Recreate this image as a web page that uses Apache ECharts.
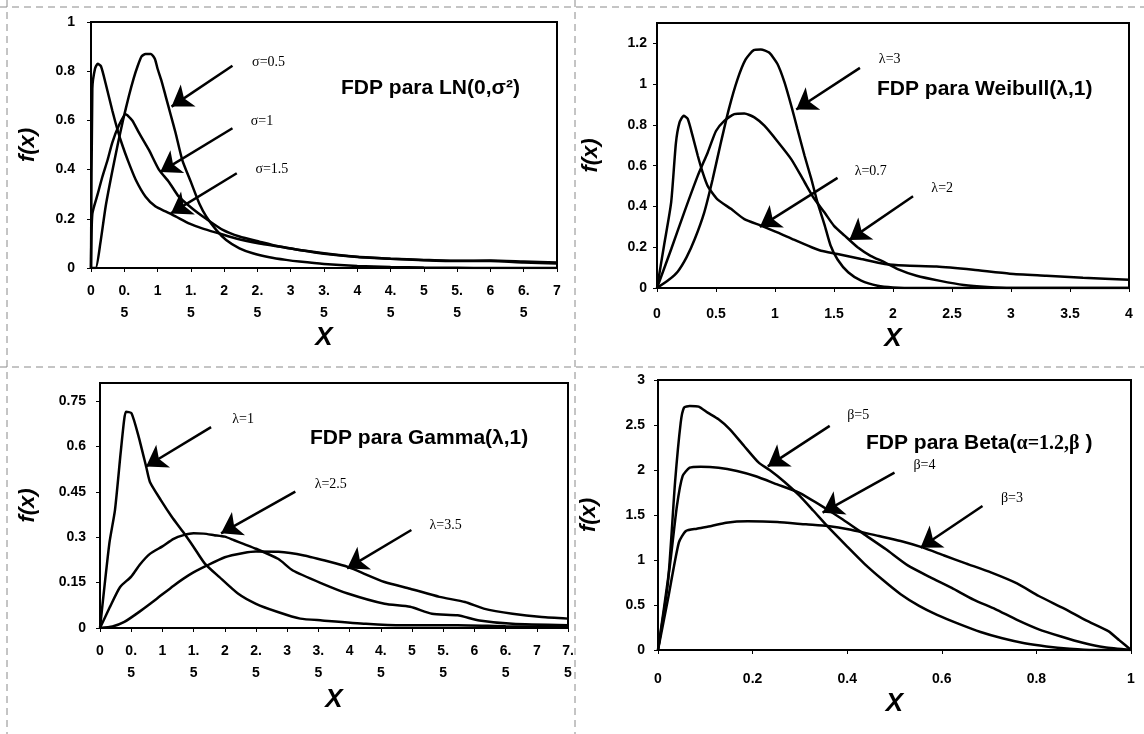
<!DOCTYPE html>
<html>
<head>
<meta charset="utf-8">
<script src="https://cdn.jsdelivr.net/npm/echarts@6/dist/echarts.min.js"></script>
<style>html,body{margin:0;padding:0;background:#fff}#chart{width:1144px;height:734px}</style>
</head>
<body>
<div id="chart"></div>
<script>
// LN(0, sigma^2)
const lnX05 = [0, 0.07, 0.14, 0.22, 0.31, 0.40, 0.48, 0.57, 0.64, 0.70, 0.76, 0.82, 0.90, 0.96, 1.00, 1.06, 1.12, 1.20, 1.27, 1.37, 1.50, 1.63, 1.73, 1.88, 2.03, 2.23, 2.43, 2.68, 2.93, 3.13, 3.5, 4.0, 4.5, 5.0, 5.5, 6.0, 6.5, 7.0];
const lnY05 = [0, 0, 0.1, 0.25, 0.38, 0.50, 0.60, 0.70, 0.77, 0.82, 0.86, 0.87, 0.87, 0.85, 0.81, 0.76, 0.70, 0.62, 0.55, 0.44, 0.35, 0.26, 0.21, 0.155, 0.114, 0.08, 0.06, 0.044, 0.033, 0.026, 0.016, 0.008, 0.004, 0.002, 0.001, 0, 0, 0];
const lnX1 = [0, 0.02, 0.10, 0.17, 0.25, 0.32, 0.42, 0.52, 0.62, 0.72, 0.87, 1.02, 1.17, 1.32, 1.53, 1.73, 1.98, 2.23, 2.53, 2.83, 3.13, 3.5, 4.0, 4.5, 5.0, 5.5, 6.0, 6.5, 7.0];
const lnY1 = [0, 0.22, 0.30, 0.37, 0.44, 0.51, 0.58, 0.625, 0.60, 0.55, 0.48, 0.40, 0.35, 0.29, 0.24, 0.20, 0.155, 0.128, 0.107, 0.087, 0.073, 0.058, 0.045, 0.038, 0.033, 0.029, 0.03, 0.026, 0.022];
const lnX15 = [0, 0.02, 0.06, 0.10, 0.15, 0.22, 0.32, 0.40, 0.47, 0.55, 0.67, 0.82, 0.97, 1.12, 1.27, 1.48, 1.68, 1.93, 2.18, 2.53, 2.83, 3.13, 3.5, 4.0, 4.5, 5.0, 5.5, 6.0, 6.5, 7.0];
const lnY15 = [0, 0.73, 0.81, 0.83, 0.82, 0.75, 0.64, 0.56, 0.50, 0.44, 0.36, 0.29, 0.25, 0.23, 0.21, 0.18, 0.16, 0.14, 0.12, 0.10, 0.087, 0.073, 0.06, 0.046, 0.038, 0.032, 0.028, 0.028, 0.022, 0.018];

// Weibull(lambda, 1)
const wbX07 = [0, 0.06, 0.12, 0.16, 0.19, 0.226, 0.26, 0.30, 0.345, 0.387, 0.43, 0.51, 0.63, 0.74, 0.88, 1.02, 1.16, 1.31, 1.39, 1.53, 1.73, 1.93, 2.1, 2.37, 2.68, 2.99, 3.3, 3.61, 4.0];
const wbY07 = [0, 0.21, 0.42, 0.71, 0.81, 0.845, 0.83, 0.75, 0.65, 0.567, 0.50, 0.436, 0.387, 0.338, 0.306, 0.273, 0.237, 0.20, 0.183, 0.167, 0.142, 0.118, 0.11, 0.105, 0.089, 0.07, 0.06, 0.05, 0.04];
const wbX3 = [0, 0.1, 0.175, 0.25, 0.32, 0.4, 0.47, 0.54, 0.61, 0.68, 0.75, 0.82, 0.88, 0.95, 1.02, 1.08, 1.14, 1.19, 1.25, 1.31, 1.36, 1.42, 1.47, 1.53, 1.62, 1.73, 1.87, 2.0, 2.2, 4.0];
const wbY3 = [0, 0.04, 0.08, 0.15, 0.24, 0.37, 0.53, 0.71, 0.88, 1.02, 1.12, 1.167, 1.17, 1.155, 1.10, 1.01, 0.89, 0.78, 0.65, 0.53, 0.42, 0.31, 0.21, 0.14, 0.077, 0.036, 0.011, 0.003, 0, 0];
const wbX2 = [0, 0.12, 0.23, 0.345, 0.43, 0.5, 0.57, 0.655, 0.74, 0.825, 0.91, 1.02, 1.14, 1.25, 1.33, 1.42, 1.5, 1.59, 1.7, 1.81, 1.93, 2.04, 2.2, 2.4, 2.6, 2.8, 3.0, 4.0];
const wbY2 = [0, 0.19, 0.37, 0.55, 0.665, 0.77, 0.82, 0.853, 0.856, 0.837, 0.796, 0.72, 0.63, 0.52, 0.44, 0.37, 0.305, 0.257, 0.2, 0.158, 0.126, 0.093, 0.06, 0.035, 0.015, 0.005, 0, 0];

// Gamma(lambda, 1)
const gmX1 = [0, 0.15, 0.24, 0.33, 0.387, 0.417, 0.505, 0.62, 0.74, 0.80, 0.975, 1.15, 1.33, 1.50, 1.68, 1.91, 2.21, 2.50, 2.85, 3.21, 3.56, 4.26, 4.85, 5.73, 6.5, 7.5];
const gmY1 = [0, 0.28, 0.39, 0.577, 0.688, 0.715, 0.71, 0.632, 0.533, 0.483, 0.423, 0.368, 0.318, 0.268, 0.213, 0.169, 0.114, 0.08, 0.053, 0.031, 0.025, 0.014, 0.009, 0.009, 0.006, 0.004];
const gmX25 = [0, 0.16, 0.32, 0.5, 0.64, 0.8, 1.0, 1.18, 1.34, 1.5, 1.66, 1.83, 2.0, 2.15, 2.3, 2.5, 2.86, 3.09, 3.56, 3.97, 4.56, 4.97, 5.32, 5.73, 6.08, 6.61, 7.5];
const gmY25 = [0, 0.07, 0.135, 0.17, 0.21, 0.245, 0.27, 0.295, 0.307, 0.313, 0.312, 0.307, 0.302, 0.29, 0.278, 0.262, 0.228, 0.19, 0.147, 0.114, 0.08, 0.07, 0.047, 0.042, 0.025, 0.014, 0.009];
const gmX35 = [0, 0.2, 0.39, 0.64, 0.9, 1.18, 1.45, 1.7, 2.0, 2.3, 2.5, 2.86, 3.27, 3.68, 3.97, 4.56, 4.97, 5.44, 5.85, 6.15, 6.61, 7.08, 7.5];
const gmY35 = [0, 0.005, 0.02, 0.055, 0.095, 0.14, 0.178, 0.205, 0.234, 0.248, 0.253, 0.252, 0.24, 0.219, 0.202, 0.152, 0.13, 0.103, 0.086, 0.064, 0.047, 0.036, 0.031];

// Beta(1.2, beta)
const btX3 = [0, 0.021, 0.044, 0.059, 0.082, 0.113, 0.144, 0.19, 0.252, 0.313, 0.359, 0.405, 0.467, 0.513, 0.559, 0.605, 0.652, 0.705, 0.759, 0.805, 0.859, 0.905, 0.952, 0.975, 1.0];
const btY3 = [0, 0.563, 1.193, 1.322, 1.348, 1.378, 1.415, 1.43, 1.422, 1.396, 1.378, 1.34, 1.267, 1.211, 1.14, 1.05, 0.96, 0.86, 0.74, 0.6, 0.46, 0.33, 0.21, 0.11, 0];
const btX4 = [0, 0.025, 0.04, 0.052, 0.067, 0.09, 0.128, 0.167, 0.205, 0.252, 0.298, 0.352, 0.39, 0.436, 0.482, 0.528, 0.575, 0.621, 0.667, 0.713, 0.759, 0.805, 0.852, 0.898, 0.944, 1.0];
const btY4 = [0, 0.933, 1.6, 1.933, 2.026, 2.037, 2.026, 1.989, 1.933, 1.84, 1.748, 1.581, 1.452, 1.285, 1.119, 0.94, 0.81, 0.69, 0.56, 0.455, 0.335, 0.23, 0.15, 0.08, 0.03, 0];
const btX5 = [0, 0.021, 0.036, 0.048, 0.055, 0.067, 0.086, 0.105, 0.128, 0.152, 0.182, 0.213, 0.236, 0.267, 0.298, 0.328, 0.359, 0.398, 0.436, 0.475, 0.513, 0.552, 0.59, 0.636, 0.682, 0.728, 0.775, 0.821, 0.87, 0.92, 1.0];
const btY5 = [0, 0.748, 1.86, 2.526, 2.693, 2.711, 2.704, 2.637, 2.563, 2.452, 2.267, 2.081, 2.0, 1.87, 1.72, 1.55, 1.37, 1.16, 0.96, 0.78, 0.62, 0.49, 0.39, 0.29, 0.2, 0.13, 0.075, 0.04, 0.015, 0, 0];

// arrow annotations: [fromX, fromY, toX, toY] and label [x, y]
const lnArrows = [[2.125, 0.822, 1.21, 0.656], [2.125, 0.568, 1.04, 0.39], [2.19, 0.385, 1.2, 0.222]];
const lnTags = [[2.42, 0.837], [2.4, 0.595], [2.47, 0.40]];
const wbArrows = [[1.53, 0.54, 0.872, 0.30], [1.72, 1.08, 1.18, 0.876], [2.17, 0.45, 1.63, 0.236]];
const wbTags = [[1.675, 0.572], [1.88, 1.12], [2.325, 0.49]];
const gmArrows = [[1.78, 0.664, 0.738, 0.534], [3.13, 0.451, 1.94, 0.313], [4.99, 0.324, 3.96, 0.197]];
const gmTags = [[2.12, 0.69], [3.44, 0.474], [5.28, 0.341]];
const btArrows = [[0.686, 1.6, 0.555, 1.137], [0.50, 1.97, 0.348, 1.526], [0.363, 2.49, 0.232, 2.04]];
const btTags = [[0.725, 1.68], [0.54, 2.05], [0.40, 2.61]];

const tickFont = {color: '#000', fontFamily: 'Liberation Sans', fontWeight: 'bold', fontSize: 14};

function curve(g, xs, ys, arrow, tag, tagAt) {
  return {
    type: 'line', xAxisIndex: g, yAxisIndex: g,
    data: xs.map((x, i) => [x, ys[i]]),
    showSymbol: false, smooth: 0.2, silent: true,
    lineStyle: {color: '#000', width: 2.5},
    markLine: {
      silent: true, symbol: ['none', 'arrow'], symbolSize: 20,
      lineStyle: {color: '#000', width: 2.5, type: 'solid'},
      itemStyle: {color: '#000'},
      label: {show: false}, emphasis: {disabled: true},
      data: [[{coord: [arrow[0], arrow[1]]}, {coord: [arrow[2], arrow[3]]}]]
    },
    markPoint: {
      silent: true, symbol: 'circle', symbolSize: 0,
      label: {show: true, position: 'right', distance: 0, formatter: tag,
        color: '#000', fontFamily: 'Liberation Serif', fontSize: 14},
      data: [{coord: tagAt}]
    }
  };
}

function xAx(g, max, interval, wrap, margin, gap) {
  return {
    gridIndex: g, type: 'value', min: 0, max: max, interval: interval,
    name: 'X', nameLocation: 'middle', nameGap: gap,
    nameTextStyle: {color: '#000', fontFamily: 'Liberation Sans', fontWeight: 'bold', fontStyle: 'italic', fontSize: 26},
    axisLine: {show: true, lineStyle: {color: '#000', width: 2}},
    axisTick: {show: true, length: 4, lineStyle: {color: '#000'}},
    splitLine: {show: false},
    axisLabel: Object.assign({margin: margin, lineHeight: 22,
      formatter: v => wrap ? String(v).replace('.', '.\n') : String(v)}, tickFont)
  };
}

function yAx(g, max, interval, margin, gap) {
  return {
    gridIndex: g, type: 'value', min: 0, max: max, interval: interval,
    name: 'f(x)', nameLocation: 'middle', nameGap: gap,
    nameTextStyle: {color: '#000', fontFamily: 'Liberation Sans', fontWeight: 'bold', fontStyle: 'italic', fontSize: 22},
    axisLine: {show: true, lineStyle: {color: '#000', width: 2}},
    axisTick: {show: true, length: 4, lineStyle: {color: '#000'}},
    splitLine: {show: false},
    axisLabel: Object.assign({margin: margin, showMaxLabel: max === 1 || max === 3}, tickFont)
  };
}

const titleFont = {color: '#000', fontFamily: 'Liberation Sans', fontWeight: 'bold', fontSize: 21};
const tagFont = {color: '#000', fontFamily: 'Liberation Serif', fontSize: 20};

function dash(x1, y1, x2, y2) {
  return {type: 'line', shape: {x1: x1, y1: y1, x2: x2, y2: y2}, silent: true,
    style: {stroke: '#8a8a8a', lineWidth: 1, lineDash: [7, 5]}};
}

const chart = echarts.init(document.getElementById('chart'));
chart.setOption({
  animation: false,
  backgroundColor: '#fff',
  graphic: [dash(0, 7, 1144, 7), dash(7, 0, 7, 734), dash(0, 367, 1144, 367), dash(575, 0, 575, 734)],
  title: [
    {text: 'FDP para LN(0,σ²)', left: 341, top: 78, padding: 0, textStyle: titleFont},
    {text: 'FDP para Weibull(λ,1)', left: 877, top: 79, padding: 0, textStyle: titleFont},
    {text: 'FDP para Gamma(λ,1)', left: 310, top: 428, padding: 0, textStyle: titleFont},
    {text: '{a|FDP para Beta(}{b|α=1.2,β}{a| )}', left: 866, top: 433, padding: 0,
      textStyle: {rich: {a: titleFont, b: tagFont}}}
  ],
  grid: [
    {left: 91, top: 22, width: 466, height: 246},
    {left: 657, top: 23, width: 472, height: 265},
    {left: 100, top: 383, width: 468, height: 245},
    {left: 658, top: 380, width: 473, height: 270}
  ].map(g => Object.assign(g, {show: true, borderColor: '#000', borderWidth: 2, containLabel: false})),
  xAxis: [
    xAx(0, 7, 0.5, true, 12, 56),
    xAx(1, 4, 0.5, false, 15, 32),
    xAx(2, 7.5, 0.5, true, 12, 59),
    xAx(3, 1, 0.2, false, 18, 32)
  ],
  yAxis: [
    yAx(0, 1, 0.2, 16, 52),
    yAx(1, 1.3, 0.2, 10, 55),
    yAx(2, 0.81, 0.15, 14, 61),
    yAx(3, 3, 0.5, 13, 58)
  ],
  series: [
    curve(0, lnX05, lnY05, lnArrows[0], 'σ=0.5', lnTags[0]),
    curve(0, lnX1, lnY1, lnArrows[1], 'σ=1', lnTags[1]),
    curve(0, lnX15, lnY15, lnArrows[2], 'σ=1.5', lnTags[2]),
    curve(1, wbX07, wbY07, wbArrows[0], 'λ=0.7', wbTags[0]),
    curve(1, wbX3, wbY3, wbArrows[1], 'λ=3', wbTags[1]),
    curve(1, wbX2, wbY2, wbArrows[2], 'λ=2', wbTags[2]),
    curve(2, gmX1, gmY1, gmArrows[0], 'λ=1', gmTags[0]),
    curve(2, gmX25, gmY25, gmArrows[1], 'λ=2.5', gmTags[1]),
    curve(2, gmX35, gmY35, gmArrows[2], 'λ=3.5', gmTags[2]),
    curve(3, btX3, btY3, btArrows[0], 'β=3', btTags[0]),
    curve(3, btX4, btY4, btArrows[1], 'β=4', btTags[1]),
    curve(3, btX5, btY5, btArrows[2], 'β=5', btTags[2])
  ]
});
</script>
</body>
</html>
